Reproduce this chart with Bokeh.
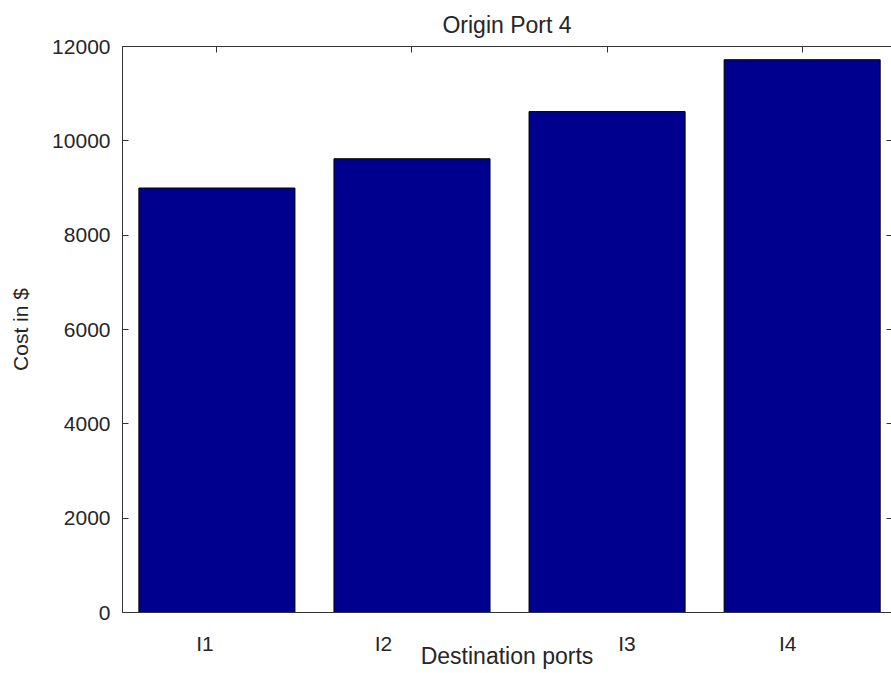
from bokeh.plotting import figure
from bokeh.models import Range1d, FixedTicker, LinearAxis, ColumnDataSource
from bokeh.embed import file_html
from bokeh.resources import INLINE

# ---- data ----
categories = ["I1", "I2", "I3", "I4"]
bar_x = [1, 2, 3, 4]
costs = [9000, 9620, 10620, 11720]
tick_label_x = [0.939, 1.854, 3.102, 3.926]   # where the category labels sit
y_ticks = [0, 2000, 4000, 6000, 8000, 10000, 12000]

FONT = "Liberation Sans"
TXT = "#262626"
AX = "#333333"

src = ColumnDataSource(dict(x=bar_x, top=costs, name=categories))

p = figure(width=891, height=673,
           x_range=Range1d(0.516, 4.458), y_range=Range1d(0, 12000),
           output_backend="svg", toolbar_location=None,
           min_border_left=122, min_border_right=0,
           min_border_top=46, min_border_bottom=61,
           x_axis_location=None, y_axis_location=None,
           title="Origin Port 4")
p.outline_line_color = None
p.grid.visible = False
p.background_fill_color = "white"
p.border_fill_color = "white"

p.vbar(x="x", top="top", width=0.8, bottom=0, source=src,
       fill_color="#00008F", line_color="#000000", line_width=1)

# title
p.title.align = "center"
p.title.text_font = FONT
p.title.text_font_size = "23px"
p.title.text_font_style = "normal"
p.title.text_color = TXT
p.title.standoff = 18

def style(ax):
    ax.axis_line_color = AX
    ax.axis_line_width = 1
    ax.major_tick_line_color = AX
    ax.minor_tick_line_color = AX
    ax.major_tick_out = 0
    ax.minor_tick_out = 0
    ax.minor_tick_in = 0
    ax.major_label_text_font = FONT
    ax.major_label_text_color = TXT
    ax.axis_label_text_font = FONT
    ax.axis_label_text_color = TXT
    ax.axis_label_text_font_style = "normal"

# bottom axis: category labels
xb = LinearAxis(ticker=FixedTicker(ticks=tick_label_x),
                major_label_overrides={t: c for t, c in zip(tick_label_x, categories)},
                axis_label="Destination ports")
style(xb)
xb.major_tick_in = 0
xb.major_label_text_font_size = "21px"
xb.major_label_standoff = 19
xb.axis_label_text_font_size = "23px"
xb.axis_label_standoff = -15
p.add_layout(xb, "below")

# top axis: tick marks only (minor ticks carry no labels)
xt = LinearAxis(ticker=FixedTicker(ticks=[], minor_ticks=bar_x))
style(xt)
xt.major_tick_in = 0
xt.minor_tick_in = 6
xt.major_label_standoff = 0
p.add_layout(xt, "above")

# left axis
yl = LinearAxis(ticker=FixedTicker(ticks=y_ticks), axis_label="Cost in $")
style(yl)
yl.major_tick_in = 6
yl.major_label_text_font_size = "21px"
yl.major_label_standoff = 12
yl.axis_label_text_font_size = "21px"
yl.axis_label_standoff = 17
p.add_layout(yl, "left")

# right axis: tick marks only
yr = LinearAxis(ticker=FixedTicker(ticks=[], minor_ticks=y_ticks))
style(yr)
yr.axis_line_color = None
yr.major_tick_in = 0
yr.minor_tick_in = 5
yr.major_label_standoff = 0
p.add_layout(yr, "right")

open("out.html", "w").write(file_html(p, INLINE))
